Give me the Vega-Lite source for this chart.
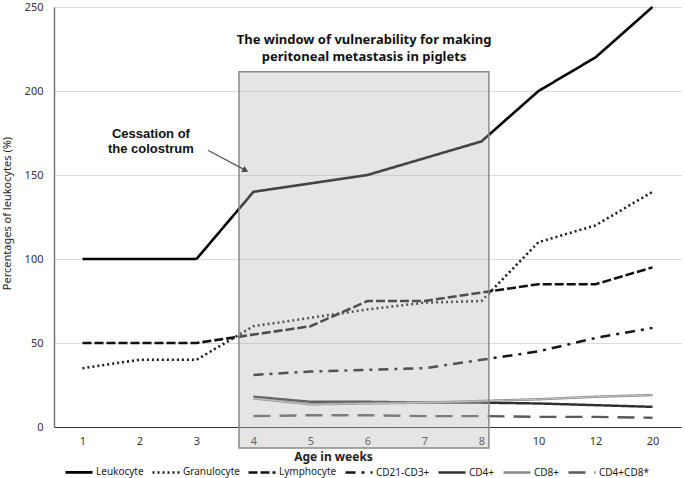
{
  "$schema": "https://vega.github.io/schema/vega-lite/v6.json",
  "width": 627,
  "height": 420,
  "autosize": {"type": "none"},
  "padding": {"left": 54, "top": 7, "right": 4, "bottom": 51},
  "background": "white",
  "config": {
    "view": {"stroke": null},
    "font": "Noto Sans",
    "axis": {"labelFont": "Noto Sans", "titleFont": "Noto Sans", "labelColor": "#333", "titleColor": "#222"}
  },
  "datasets": {
    "lines": [
      {"series": "Leukocyte", "pos": 1, "week": "1", "value": 100},
      {"series": "Leukocyte", "pos": 2, "week": "2", "value": 100},
      {"series": "Leukocyte", "pos": 3, "week": "3", "value": 100},
      {"series": "Leukocyte", "pos": 4, "week": "4", "value": 140},
      {"series": "Leukocyte", "pos": 5, "week": "5", "value": 145},
      {"series": "Leukocyte", "pos": 6, "week": "6", "value": 150},
      {"series": "Leukocyte", "pos": 7, "week": "7", "value": 160},
      {"series": "Leukocyte", "pos": 8, "week": "8", "value": 170},
      {"series": "Leukocyte", "pos": 9, "week": "10", "value": 200},
      {"series": "Leukocyte", "pos": 10, "week": "12", "value": 220},
      {"series": "Leukocyte", "pos": 11, "week": "20", "value": 250},
      {"series": "Granulocyte", "pos": 1, "week": "1", "value": 35},
      {"series": "Granulocyte", "pos": 2, "week": "2", "value": 40},
      {"series": "Granulocyte", "pos": 3, "week": "3", "value": 40},
      {"series": "Granulocyte", "pos": 4, "week": "4", "value": 60},
      {"series": "Granulocyte", "pos": 5, "week": "5", "value": 65},
      {"series": "Granulocyte", "pos": 6, "week": "6", "value": 70},
      {"series": "Granulocyte", "pos": 7, "week": "7", "value": 74},
      {"series": "Granulocyte", "pos": 8, "week": "8", "value": 75},
      {"series": "Granulocyte", "pos": 9, "week": "10", "value": 110},
      {"series": "Granulocyte", "pos": 10, "week": "12", "value": 120},
      {"series": "Granulocyte", "pos": 11, "week": "20", "value": 140},
      {"series": "Lymphocyte", "pos": 1, "week": "1", "value": 50},
      {"series": "Lymphocyte", "pos": 2, "week": "2", "value": 50},
      {"series": "Lymphocyte", "pos": 3, "week": "3", "value": 50},
      {"series": "Lymphocyte", "pos": 4, "week": "4", "value": 55},
      {"series": "Lymphocyte", "pos": 5, "week": "5", "value": 60},
      {"series": "Lymphocyte", "pos": 6, "week": "6", "value": 75},
      {"series": "Lymphocyte", "pos": 7, "week": "7", "value": 75},
      {"series": "Lymphocyte", "pos": 8, "week": "8", "value": 80},
      {"series": "Lymphocyte", "pos": 9, "week": "10", "value": 85},
      {"series": "Lymphocyte", "pos": 10, "week": "12", "value": 85},
      {"series": "Lymphocyte", "pos": 11, "week": "20", "value": 95},
      {"series": "CD21-CD3+", "pos": 4, "week": "4", "value": 31},
      {"series": "CD21-CD3+", "pos": 5, "week": "5", "value": 33},
      {"series": "CD21-CD3+", "pos": 6, "week": "6", "value": 34},
      {"series": "CD21-CD3+", "pos": 7, "week": "7", "value": 35},
      {"series": "CD21-CD3+", "pos": 8, "week": "8", "value": 40},
      {"series": "CD21-CD3+", "pos": 9, "week": "10", "value": 45},
      {"series": "CD21-CD3+", "pos": 10, "week": "12", "value": 53},
      {"series": "CD21-CD3+", "pos": 11, "week": "20", "value": 59},
      {"series": "CD4+", "pos": 4, "week": "4", "value": 18},
      {"series": "CD4+", "pos": 5, "week": "5", "value": 15},
      {"series": "CD4+", "pos": 6, "week": "6", "value": 15},
      {"series": "CD4+", "pos": 7, "week": "7", "value": 14.5},
      {"series": "CD4+", "pos": 8, "week": "8", "value": 14.5},
      {"series": "CD4+", "pos": 9, "week": "10", "value": 14},
      {"series": "CD4+", "pos": 10, "week": "12", "value": 13},
      {"series": "CD4+", "pos": 11, "week": "20", "value": 12},
      {"series": "CD8+", "pos": 4, "week": "4", "value": 17},
      {"series": "CD8+", "pos": 5, "week": "5", "value": 13.5},
      {"series": "CD8+", "pos": 6, "week": "6", "value": 14},
      {"series": "CD8+", "pos": 7, "week": "7", "value": 14.5},
      {"series": "CD8+", "pos": 8, "week": "8", "value": 15.5},
      {"series": "CD8+", "pos": 9, "week": "10", "value": 16.5},
      {"series": "CD8+", "pos": 10, "week": "12", "value": 18},
      {"series": "CD8+", "pos": 11, "week": "20", "value": 19},
      {"series": "CD4+CD8*", "pos": 4, "week": "4", "value": 6.5},
      {"series": "CD4+CD8*", "pos": 5, "week": "5", "value": 7},
      {"series": "CD4+CD8*", "pos": 6, "week": "6", "value": 7},
      {"series": "CD4+CD8*", "pos": 7, "week": "7", "value": 6.5},
      {"series": "CD4+CD8*", "pos": 8, "week": "8", "value": 6.5},
      {"series": "CD4+CD8*", "pos": 9, "week": "10", "value": 6},
      {"series": "CD4+CD8*", "pos": 10, "week": "12", "value": 6},
      {"series": "CD4+CD8*", "pos": 11, "week": "20", "value": 5.5}
    ],
    "box": [{"x1": 3.745, "x2": 8.13, "y1": 211.5, "y2": -12.5}],
    "title": [
      {"label": "The window of vulnerability for making", "x": 5.94, "y": 230.3},
      {"label": "peritoneal metastasis in piglets", "x": 5.94, "y": 220.4}
    ],
    "note": [
      {"label": "Cessation of", "x": 2.2, "y": 174.3},
      {"label": "the colostrum", "x": 2.2, "y": 165.7}
    ],
    "arrow": [{"x1": 3.2, "y1": 164.7, "x2": 3.84, "y2": 153.2}],
    "arrowhead": [{"x": 3.86, "y": 152.8}]
  },
  "layer": [
    {
      "data": {"name": "lines"},
      "mark": {"type": "line", "clip": false},
      "encoding": {
        "x": {
          "field": "pos", "type": "quantitative",
          "scale": {"domain": [0.5, 11.5], "nice": false, "zero": false},
          "axis": {
            "values": [1, 2, 3, 4, 5, 6, 7, 8, 9, 10, 11],
            "labelExpr": "['','1','2','3','4','5','6','7','8','10','12','20'][datum.value]",
            "grid": false, "ticks": false, "domainColor": "#333", "domainWidth": 1,
            "labelFontSize": 11, "labelPadding": 8,
            "title": "Age in weeks", "titleFontSize": 12, "titleFontWeight": "bold",
            "titlePadding": 5, "titleX": 279
          }
        },
        "y": {
          "field": "value", "type": "quantitative",
          "scale": {"domain": [0, 250], "nice": false},
          "axis": {
            "values": [0, 50, 100, 150, 200, 250],
            "grid": true, "gridColor": "#d9d9d9", "gridWidth": 1,
            "ticks": false, "domainColor": "#777", "domainWidth": 1.5,
            "labelFontSize": 11, "labelPadding": 11,
            "title": "Percentages of leukocytes (%)", "titleFontSize": 11, "titleFontWeight": "normal",
            "titleX": -42, "titleY": 206
          }
        },
        "detail": {"field": "series"},
        "color": {
          "field": "series", "type": "nominal",
          "scale": {
            "domain": ["Leukocyte", "Granulocyte", "Lymphocyte", "CD21-CD3+", "CD4+", "CD8+", "CD4+CD8*"],
            "range": ["#000000", "#1a1a1a", "#111111", "#151515", "#303030", "#8a8a8a", "#5a5a5a"]
          },
          "legend": {
            "orient": "none", "legendX": 10, "legendY": 450, "direction": "horizontal", "columns": 7,
            "title": null, "symbolType": "stroke", "symbolSize": 729,
            "labelFont": "Noto Sans", "labelFontSize": 10, "labelColor": "#222", "labelOffset": 2,
            "columnPadding": 3
          }
        },
        "strokeDash": {
          "field": "series", "type": "nominal",
          "scale": {
            "domain": ["Leukocyte", "Granulocyte", "Lymphocyte", "CD21-CD3+", "CD4+", "CD8+", "CD4+CD8*"],
            "range": [[1, 0], [2, 3], [9, 3], [10, 6, 3, 6], [1, 0], [1, 0], [17, 9]]
          },
          "legend": {
            "orient": "none", "legendX": 10, "legendY": 450, "direction": "horizontal", "columns": 7,
            "title": null, "symbolType": "stroke", "symbolSize": 729,
            "labelFont": "Noto Sans", "labelFontSize": 10, "labelColor": "#222", "labelOffset": 2,
            "columnPadding": 3
          }
        },
        "strokeWidth": {
          "field": "series", "type": "nominal",
          "scale": {
            "domain": ["Leukocyte", "Granulocyte", "Lymphocyte", "CD21-CD3+", "CD4+", "CD8+", "CD4+CD8*"],
            "range": [2.6, 2.4, 3, 2.6, 2, 3.2, 2.4]
          },
          "legend": {
            "orient": "none", "legendX": 10, "legendY": 450, "direction": "horizontal", "columns": 7,
            "title": null, "symbolType": "stroke", "symbolSize": 729,
            "labelFont": "Noto Sans", "labelFontSize": 10, "labelColor": "#222", "labelOffset": 2,
            "columnPadding": 3
          }
        }
      }
    },
    {
      "data": {"name": "lines"},
      "transform": [{"filter": "datum.series === 'CD8+'"}],
      "mark": {"type": "line", "color": "#c4c4c4", "strokeWidth": 1},
      "encoding": {
        "x": {"field": "pos", "type": "quantitative"},
        "y": {"field": "value", "type": "quantitative"}
      }
    },
    {
      "data": {"name": "box"},
      "mark": {"type": "rect", "clip": false, "fill": "#b8b8b8", "fillOpacity": 0.37, "stroke": "#8a8a8a", "strokeWidth": 1.5},
      "encoding": {
        "x": {"field": "x1", "type": "quantitative"},
        "x2": {"field": "x2"},
        "y": {"field": "y1", "type": "quantitative"},
        "y2": {"field": "y2"}
      }
    },
    {
      "data": {"name": "title"},
      "mark": {"type": "text", "font": "Noto Sans", "fontSize": 13, "fontWeight": "bold", "color": "#111", "align": "center", "baseline": "middle"},
      "encoding": {
        "x": {"field": "x", "type": "quantitative"},
        "y": {"field": "y", "type": "quantitative"},
        "text": {"field": "label"}
      }
    },
    {
      "data": {"name": "note"},
      "mark": {"type": "text", "font": "Liberation Sans", "fontSize": 13, "fontWeight": "bold", "color": "#111", "align": "center", "baseline": "middle"},
      "encoding": {
        "x": {"field": "x", "type": "quantitative"},
        "y": {"field": "y", "type": "quantitative"},
        "text": {"field": "label"}
      }
    },
    {
      "data": {"name": "arrow"},
      "mark": {"type": "rule", "color": "#555", "strokeWidth": 1.2},
      "encoding": {
        "x": {"field": "x1", "type": "quantitative"},
        "y": {"field": "y1", "type": "quantitative"},
        "x2": {"field": "x2"},
        "y2": {"field": "y2"}
      }
    },
    {
      "data": {"name": "arrowhead"},
      "mark": {"type": "point", "shape": "triangle-right", "angle": 28, "size": 45, "filled": true, "color": "#444", "opacity": 1},
      "encoding": {
        "x": {"field": "x", "type": "quantitative"},
        "y": {"field": "y", "type": "quantitative"}
      }
    }
  ]
}
